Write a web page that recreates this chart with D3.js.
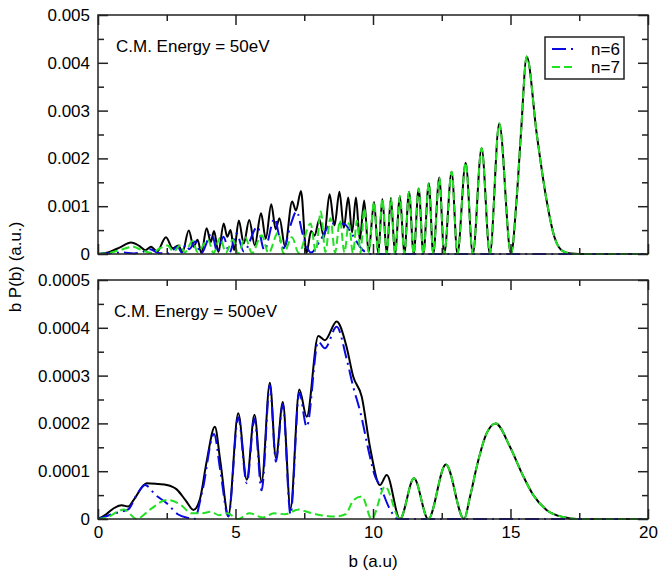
<!DOCTYPE html>
<html>
<head>
<meta charset="utf-8">
<script src="https://cdn.jsdelivr.net/npm/d3@7"></script>
<style>
  body { margin: 0; background: #fff; }
  svg { font-family: 'Liberation Sans', Arial, sans-serif; }
</style>
</head>
<body>
<svg id="chart" width="658" height="574"></svg>
<script>
// axis ticks
const xTicks = [0, 5, 10, 15, 20]
const xMinorTicks = [2.5, 7.5, 12.5, 17.5]
const topYTicks = [0, 0.001, 0.002, 0.003, 0.004, 0.005]
const topYLabels = ['0', '0.001', '0.002', '0.003', '0.004', '0.005']
const topYMinor = [0.0005, 0.0015, 0.0025, 0.0035, 0.0045]
const botYTicks = [0, 0.0001, 0.0002, 0.0003, 0.0004, 0.0005]
const botYLabels = ['0', '0.0001', '0.0002', '0.0003', '0.0004', '0.0005']
const botYMinor = [0.00005, 0.00015, 0.00025, 0.00035, 0.00045]

// 50 eV, [b, bP(b)] at extrema
// beyond b ~ 9.8 the total and n=7 curves are the same
const topTail = [
  [9.84, 0.00004], [10.04, 0.00109], [10.19, 0], [10.34, 0.00115], [10.5, 0],
  [10.65, 0.00117], [10.8, 0], [10.98, 0.00121], [11.14, 0], [11.31, 0.0013],
  [11.48, 0], [11.66, 0.00137], [11.83, 0], [12.03, 0.00148], [12.19, 0],
  [12.41, 0.0016], [12.59, 0], [12.86, 0.00172], [13.07, 0], [13.37, 0.00191],
  [13.63, 0], [13.95, 0.00221], [14.25, 0], [14.59, 0.00273], [15.02, 0],
  [15.22, 0.00113], [15.38, 0.00252], [15.59, 0.00413], [15.95, 0.00253],
  [16.31, 0.00113], [16.6, 0.00035], [16.9, 0.00006], [17.2, 0.00001],
  [17.5, 0], [20, 0]
]
const topTotalHead = [
  [0, 0], [0.4, 0.00004], [0.8, 0.00014], [1.2, 0.00024], [1.5, 0.00017],
  [1.72, 0.00008], [1.93, 0.00015], [2.15, 0.00005], [2.47, 0.00035],
  [2.72, 0.00012], [2.92, 0.00018], [3.07, 0.00004], [3.3, 0.00049],
  [3.48, 0.00015], [3.62, 0.0003], [3.76, 0.00002], [3.95, 0.00054],
  [4.1, 0.00025], [4.22, 0.00048], [4.38, 0.00004], [4.57, 0.00064],
  [4.7, 0.00036], [4.82, 0.0005], [4.95, 0.00008], [5.12, 0.0007],
  [5.3, 0.00022], [5.5, 0.00071], [5.7, 0.00018], [5.93, 0.00085],
  [6.1, 0.00032], [6.3, 0.00104], [6.46, 0.00052], [6.6, 0.00075],
  [6.8, 0.00016], [7.06, 0.0011], [7.2, 0.00091], [7.38, 0.00132],
  [7.58, 0.00002], [7.75, 0.00048], [7.87, 0.00038], [8.05, 0.00072],
  [8.22, 0.00035], [8.42, 0.00125], [8.6, 0.0006], [8.78, 0.0013],
  [8.94, 0.00055], [9.1, 0.00118], [9.24, 0.00045], [9.38, 0.00118],
  [9.52, 0.0003], [9.68, 0.00112]
]
const topN6 = [
  [0, 0], [0.5, 0.00002], [0.9, 0.00003], [1.3, 0.00001], [1.6, 0.00004],
  [1.9, 0.0001], [2.2, 0.00002], [2.55, 0.00001], [2.9, 0.00015],
  [3.05, 0.00003], [3.2, 0.0002], [3.32, 0.0001], [3.53, 0.00026],
  [3.75, 0.00001], [4.13, 0.00043], [4.35, 0.00003], [4.56, 0.00036],
  [4.78, 0.00003], [5.04, 0.00043], [5.3, 0.00005], [5.8, 0.00057],
  [6.05, 0.00008], [6.42, 0.00074], [6.6, 0.00035], [6.75, 0.00012],
  [7.0, 0.0006], [7.22, 0.00089], [7.45, 0.0004], [7.75, 0.00003],
  [8.1, 0.0003], [8.5, 0.00064], [8.95, 0.00063], [9.25, 0.0004],
  [9.6, 0.0001], [9.9, 0], [20, 0]
]
const topN7Head = [
  [0, 0], [0.4, 0.00002], [0.9, 0.0001], [1.26, 0.00015], [1.6, 0.00008],
  [1.96, 0.00002], [2.25, 0.00012], [2.53, 0.00018], [2.75, 0.00005],
  [3.0, 0.00019], [3.15, 0.00003], [3.44, 0.00027], [3.62, 0.00004],
  [4.0, 0.0003], [4.2, 0.00002], [4.44, 0.00034], [4.65, 0.00003],
  [4.9, 0.0003], [5.1, 0.00001], [5.35, 0.00035], [5.6, 0.00002],
  [5.95, 0.00039], [6.2, 0.00002], [6.55, 0.00045], [6.75, 0.00001],
  [7.05, 0.00035], [7.3, 0.00002], [7.73, 0.00064], [7.92, 0.00005],
  [8.1, 0.00089], [8.27, 0.00004], [8.45, 0.00075], [8.62, 0.00003],
  [8.8, 0.0007], [8.96, 0.00003], [9.12, 0.00065], [9.27, 0.00002],
  [9.42, 0.0007], [9.55, 0.00002], [9.68, 0.00095]
]

// 500 eV
const botTail = [
  [10.98, 0], [11.49, 0.000085], [12.01, 0], [12.65, 0.000114], [13.31, 0],
  [13.53, 0.000047], [13.77, 0.000109], [14.13, 0.000179], [14.46, 0.0002],
  [14.98, 0.000151], [15.41, 0.000096], [15.83, 0.00005], [16.31, 0.000019],
  [16.92, 0.000004], [17.4, 0], [20, 0]
]
const botTotalHead = [
  [0, 0], [0.3, 0.00001], [0.56, 0.000022], [0.86, 0.000029], [1.1, 0.000026],
  [1.3, 0.00004], [1.77, 0.000075], [2.2, 0.000073], [2.5, 0.000071],
  [2.86, 0.000062], [3.2, 0.000038], [3.47, 0.000019], [3.7, 0.00004],
  [3.95, 0.00012], [4.25, 0.000193], [4.45, 0.00012], [4.74, 0.000008],
  [5.1, 0.000221], [5.41, 0.000082], [5.69, 0.000218], [5.95, 0.000078],
  [6.25, 0.000285], [6.47, 0.000127], [6.72, 0.000245], [7.0, 0.000022],
  [7.32, 0.000271], [7.59, 0.000214], [8.01, 0.000383], [8.25, 0.000374],
  [8.68, 0.000413], [9.04, 0.00036], [9.28, 0.000298], [9.59, 0.000256],
  [9.89, 0.000151], [10.25, 0.000071], [10.5, 0.000092]
]
const botN6 = [
  [0, 0], [0.4, 0.000008], [0.8, 0.000015], [1.1, 0.00002], [1.4, 0.00005],
  [1.71, 0.000071], [2.1, 0.00005], [2.5, 0.000033], [2.9, 0.00001],
  [3.3, 0.000002], [3.5, 0], [3.8, 0.00006], [4.22, 0.000178], [4.45, 0.0001],
  [4.74, 0.000005], [5.1, 0.000213], [5.41, 0.000075], [5.69, 0.00021],
  [5.95, 0.00006], [6.25, 0.00028], [6.47, 0.00012], [6.72, 0.00024],
  [7.0, 0.00001], [7.32, 0.000264], [7.59, 0.000193], [8.01, 0.000371],
  [8.25, 0.000357], [8.68, 0.000402], [9.04, 0.000335], [9.28, 0.000277],
  [9.55, 0.000221], [9.89, 0.00013], [10.07, 0.00009], [10.25, 0.00007],
  [10.62, 0.00002], [10.9, 0], [20, 0]
]
const botN7Head = [
  [0, 0], [0.4, 0.000005], [0.7, 0.000015], [0.95, 0.00002], [1.4, 0],
  [1.9, 0.00002], [2.5, 0.00004], [3.0, 0.00003], [3.4, 0.000012],
  [3.8, 0.000012], [4.1, 0.000015], [4.4, 0.000008], [4.7, 0.000012],
  [5.1, 0], [5.5, 0.000012], [6.0, 0.000003], [6.4, 0.000012],
  [6.8, 0.00001], [7.3, 0.00002], [7.6, 0.000015], [8.1, 0.000008],
  [8.6, 0.000005], [9.0, 0.00001], [9.3, 0.00004], [9.6, 0.000047],
  [9.95, 0], [10.44, 0.000068]
]

const seriesNames = ['n=6', 'n=7']
const colors = { total: '#000000', n6: '#0a0ae0', n7: '#22e022' }
const dashes = { total: null, n6: '14,5,2,5', n7: '8,4' }

let svg = d3.select('#chart')
let x = d3.scaleLinear().domain([0, 20]).range([98, 648])
let fontSize = 17

function styleAxis (g) {
  g.select('.domain').remove()
  g.attr('font-family', null).attr('font-size', fontSize)
  g.selectAll('line').attr('stroke', '#222').attr('stroke-width', 1.5)
  g.selectAll('text').attr('fill', '#000')
}

function drawPanel (opts) {
  let y = d3.scaleLinear().domain([0, opts.max]).range([opts.bottom, opts.top])
  let g = svg.append('g')

  g.append('clipPath').attr('id', opts.id)
    .append('rect')
    .attr('x', x(0)).attr('y', opts.top - 2)
    .attr('width', x(20) - x(0)).attr('height', opts.bottom - opts.top + 3)

  let line = d3.line()
    .x(d => x(d[0]))
    .y(d => y(d[1]))
    .curve(d3.curveMonotoneX)

  let curves = g.append('g').attr('clip-path', `url(#${opts.id})`)
  opts.series.forEach(s => {
    curves.append('path')
      .attr('d', line(s.data))
      .attr('fill', 'none')
      .attr('stroke', colors[s.key])
      .attr('stroke-width', 2)
      .attr('stroke-dasharray', dashes[s.key])
      .attr('stroke-linejoin', 'round')
  })

  // ticks, all pointing inward
  g.append('g').attr('transform', `translate(0,${opts.bottom})`)
    .call(d3.axisBottom(x).tickValues(xTicks).tickSizeInner(-10).tickSizeOuter(0)
      .tickPadding(7).tickFormat(opts.xLabels ? d3.format('d') : ''))
    .call(styleAxis)
  g.append('g').attr('transform', `translate(0,${opts.bottom})`)
    .call(d3.axisBottom(x).tickValues(xMinorTicks).tickSize(-6).tickFormat(''))
    .call(styleAxis)
  g.append('g').attr('transform', `translate(0,${opts.top})`)
    .call(d3.axisTop(x).tickValues(xTicks).tickSize(-10).tickFormat(''))
    .call(styleAxis)
  g.append('g').attr('transform', `translate(0,${opts.top})`)
    .call(d3.axisTop(x).tickValues(xMinorTicks).tickSize(-6).tickFormat(''))
    .call(styleAxis)

  g.append('g').attr('transform', `translate(${x(0)},0)`)
    .call(d3.axisLeft(y).tickValues(opts.yTicks).tickSize(-10).tickPadding(8)
      .tickFormat((d, i) => opts.yLabels[i]))
    .call(styleAxis)
  g.append('g').attr('transform', `translate(${x(0)},0)`)
    .call(d3.axisLeft(y).tickValues(opts.yMinor).tickSize(-6).tickFormat(''))
    .call(styleAxis)
  g.append('g').attr('transform', `translate(${x(20)},0)`)
    .call(d3.axisRight(y).tickValues(opts.yTicks).tickSize(-10).tickFormat(''))
    .call(styleAxis)
  g.append('g').attr('transform', `translate(${x(20)},0)`)
    .call(d3.axisRight(y).tickValues(opts.yMinor).tickSize(-6).tickFormat(''))
    .call(styleAxis)

  g.append('rect')
    .attr('x', x(0)).attr('y', opts.top)
    .attr('width', x(20) - x(0)).attr('height', opts.bottom - opts.top)
    .attr('fill', 'none')
    .attr('stroke', '#222')
    .attr('stroke-width', 1.5)

  g.append('text')
    .attr('x', opts.labelX).attr('y', opts.labelY)
    .attr('font-size', fontSize)
    .text(opts.label)

  return g
}

let topPanel = drawPanel({
  id: 'clipTop', top: 15, bottom: 254, max: 0.005,
  yTicks: topYTicks, yLabels: topYLabels, yMinor: topYMinor, xLabels: false,
  label: 'C.M. Energy = 50eV', labelX: 116, labelY: 52,
  series: [
    { key: 'total', data: topTotalHead.concat(topTail) },
    { key: 'n6', data: topN6 },
    { key: 'n7', data: topN7Head.concat(topTail) }
  ]
})

drawPanel({
  id: 'clipBot', top: 280, bottom: 519, max: 0.0005,
  yTicks: botYTicks, yLabels: botYLabels, yMinor: botYMinor, xLabels: true,
  label: 'C.M. Energy = 500eV', labelX: 114, labelY: 317,
  series: [
    { key: 'total', data: botTotalHead.concat(botTail) },
    { key: 'n6', data: botN6 },
    { key: 'n7', data: botN7Head.concat(botTail) }
  ]
})

// legend
let legend = topPanel.append('g').attr('transform', 'translate(545,37)')
legend.append('rect')
  .attr('width', 79).attr('height', 42)
  .attr('fill', '#fff').attr('stroke', '#222').attr('stroke-width', 1.5)
seriesNames.forEach((name, i) => {
  let key = i === 0 ? 'n6' : 'n7'
  let ly = 12 + i * 18
  legend.append('line')
    .attr('x1', 7).attr('x2', 30).attr('y1', ly).attr('y2', ly)
    .attr('stroke', colors[key]).attr('stroke-width', 2)
    .attr('stroke-dasharray', dashes[key])
  legend.append('text')
    .attr('x', 46).attr('y', ly + 6)
    .attr('font-size', fontSize)
    .text(name)
})

// axis titles
svg.append('text')
  .attr('x', x(10)).attr('y', 567)
  .attr('text-anchor', 'middle')
  .attr('font-size', fontSize)
  .text('b (a.u)')

svg.append('text')
  .attr('transform', 'translate(21,267) rotate(-90)')
  .attr('text-anchor', 'middle')
  .attr('font-size', fontSize)
  .text('b P(b) (a.u.)')
</script>
</body>
</html>
